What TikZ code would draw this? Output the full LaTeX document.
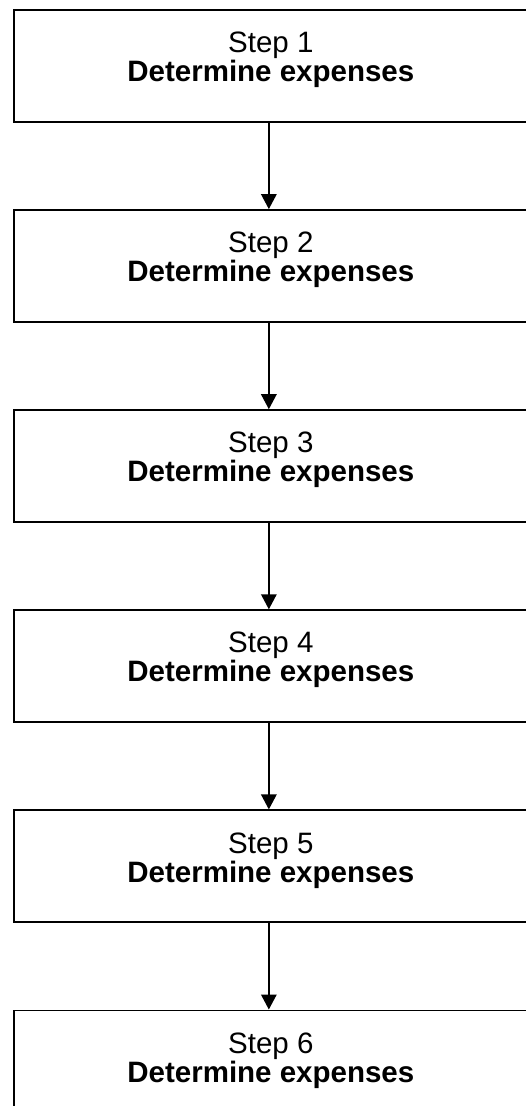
\documentclass[tikz,border=0pt]{standalone}
\usepackage{fontspec}
\setmainfont{Liberation Sans}
\usetikzlibrary{positioning,arrows.meta}

\begin{document}
\begin{tikzpicture}[x=1pt,y=1pt,
    stepbox/.style   ={draw=black, line width=1.7pt, minimum width=514pt, minimum height=112pt, inner sep=0pt, anchor=north west},
    steptext/.style  ={anchor=north, inner sep=0pt, align=center, yshift=-22.8pt, font=\fontsize{29.5pt}{29pt}\selectfont},
    steparrow/.style ={line width=1.6pt, -{Triangle[width=15.5pt,length=15pt]}}]
  \fill[white] (0,0) rectangle (526,-1106);
  \useasboundingbox (0,0) rectangle (526,-1106);

  \node[stepbox]                       (box1) at (13,-9) {};
  \node[stepbox, below=86.4pt of box1] (box2) {};
  \node[stepbox, below=86.4pt of box2] (box3) {};
  \node[stepbox, below=86.4pt of box3] (box4) {};
  \node[stepbox, below=86.4pt of box4] (box5) {};
  \node[stepbox, below=86.4pt of box5] (box6) {};

  \node[steptext] (text1) at (box1.north) {Step 1\\\textbf{Determine expenses}};
  \node[steptext] (text2) at (box2.north) {Step 2\\\textbf{Determine expenses}};
  \node[steptext] (text3) at (box3.north) {Step 3\\\textbf{Determine expenses}};
  \node[steptext] (text4) at (box4.north) {Step 4\\\textbf{Determine expenses}};
  \node[steptext] (text5) at (box5.north) {Step 5\\\textbf{Determine expenses}};
  \node[steptext] (text6) at (box6.north) {Step 6\\\textbf{Determine expenses}};

  \draw[steparrow] ([xshift=-2pt]box1.south) -- ([xshift=-2pt]box2.north);
  \draw[steparrow] ([xshift=-2pt]box2.south) -- ([xshift=-2pt]box3.north);
  \draw[steparrow] ([xshift=-2pt]box3.south) -- ([xshift=-2pt]box4.north);
  \draw[steparrow] ([xshift=-2pt]box4.south) -- ([xshift=-2pt]box5.north);
  \draw[steparrow] ([xshift=-2pt]box5.south) -- ([xshift=-2pt]box6.north);
\end{tikzpicture}
\end{document}
